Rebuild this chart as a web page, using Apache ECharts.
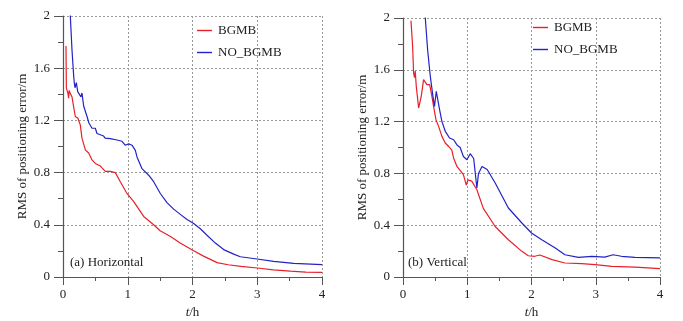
<!DOCTYPE html>
<html><head><meta charset="utf-8">
<script src="https://cdn.jsdelivr.net/npm/echarts@6/dist/echarts.min.js"></script>
<style>html,body{margin:0;padding:0;background:#fff}#c{width:683px;height:321px}</style>
</head><body><div id="c"></div>
<script>
const xTicks = [0, 1, 2, 3, 4];
const yTicks = ['0', '0.4', '0.8', '1.2', '1.6', '2'];
const seriesNames = ['BGMB', 'NO_BGMB'];
const panelLabels = ['(a) Horizontal', '(b) Vertical'];

// Horizontal panel
const hBGMB = [[0.046,1.77],[0.052,1.45],[0.062,1.43],[0.075,1.41],[0.087,1.37],[0.095,1.43],[0.11,1.41],[0.139,1.38],[0.164,1.306],[0.19,1.23],[0.21,1.22],[0.23,1.217],[0.24,1.23],[0.252,1.21],[0.267,1.166],[0.293,1.064],[0.345,0.974],[0.396,0.95],[0.448,0.898],[0.499,0.87],[0.577,0.85],[0.654,0.81],[0.731,0.81],[0.808,0.80],[0.885,0.73],[0.988,0.64],[1.09,0.58],[1.246,0.464],[1.40,0.40],[1.50,0.354],[1.66,0.31],[1.81,0.26],[1.99,0.209],[2.17,0.16],[2.38,0.11],[2.55,0.094],[2.75,0.082],[3.0,0.069],[3.25,0.055],[3.51,0.045],[3.75,0.038],[4.0,0.035]];
const hNO = [[0.10,2.3],[0.113,2.0],[0.139,1.74],[0.165,1.54],[0.175,1.485],[0.185,1.45],[0.206,1.49],[0.227,1.42],[0.252,1.41],[0.278,1.38],[0.293,1.41],[0.319,1.31],[0.371,1.23],[0.40,1.18],[0.448,1.14],[0.499,1.14],[0.525,1.10],[0.551,1.10],[0.628,1.08],[0.65,1.064],[0.731,1.06],[0.834,1.05],[0.911,1.04],[0.96,1.01],[1.014,1.02],[1.066,1.01],[1.117,0.97],[1.143,0.92],[1.22,0.83],[1.323,0.78],[1.40,0.73],[1.503,0.64],[1.606,0.57],[1.709,0.52],[1.812,0.48],[1.915,0.44],[2.018,0.41],[2.121,0.37],[2.224,0.32],[2.353,0.26],[2.481,0.21],[2.636,0.175],[2.739,0.155],[2.996,0.138],[3.254,0.12],[3.562,0.105],[4.0,0.095]];

// Vertical panel
const vBGMB = [[0.124,1.98],[0.15,1.78],[0.165,1.575],[0.18,1.54],[0.19,1.59],[0.207,1.47],[0.243,1.305],[0.284,1.395],[0.305,1.41],[0.32,1.524],[0.347,1.53],[0.373,1.485],[0.415,1.485],[0.45,1.395],[0.476,1.317],[0.513,1.215],[0.554,1.163],[0.606,1.086],[0.658,1.035],[0.71,1.008],[0.76,0.98],[0.787,0.919],[0.84,0.854],[0.94,0.79],[0.985,0.71],[1.01,0.75],[1.07,0.74],[1.15,0.674],[1.25,0.53],[1.435,0.39],[1.64,0.288],[1.85,0.198],[1.95,0.164],[2.05,0.16],[2.13,0.17],[2.32,0.134],[2.52,0.108],[2.78,0.103],[2.99,0.095],[3.25,0.082],[3.61,0.077],[4.0,0.064]];
const vNO = [[0.33,2.3],[0.347,2.0],[0.383,1.755],[0.425,1.55],[0.466,1.395],[0.49,1.317],[0.518,1.434],[0.539,1.42],[0.57,1.29],[0.606,1.20],[0.658,1.125],[0.725,1.073],[0.788,1.06],[0.84,1.02],[0.89,1.0],[0.94,0.93],[0.995,0.905],[1.046,0.952],[1.1,0.915],[1.15,0.687],[1.175,0.80],[1.23,0.854],[1.31,0.83],[1.435,0.726],[1.64,0.533],[1.85,0.417],[2.0,0.34],[2.16,0.288],[2.37,0.224],[2.52,0.172],[2.73,0.152],[2.94,0.16],[3.14,0.154],[3.27,0.172],[3.4,0.16],[3.61,0.152],[4.0,0.147]];

const RED = '#e8202a', BLUE = '#2222c8';
const FONT = 'Liberation Serif';
const txt = {fontFamily: FONT, fontSize: 13, color: '#222'};

function xAxis(gi) {
  return {
    gridIndex: gi, type: 'value', min: 0, max: 4, interval: 1,
    name: '{i|t}/h', nameLocation: 'middle', nameGap: 29,
    nameTextStyle: {fontFamily: FONT, fontSize: 13, color: '#222', rich: {i: {fontFamily: FONT, fontSize: 13, fontStyle: 'italic', color: '#222'}}},
    axisLine: {show: true, onZero: false, lineStyle: {color: '#555', width: 1.2}},
    axisTick: {show: true, length: 8, lineStyle: {color: '#555'}},
    minorTick: {show: true, splitNumber: 2, length: 4, lineStyle: {color: '#555'}},
    axisLabel: Object.assign({margin: 11, formatter: v => String(xTicks[Math.round(v)])}, txt),
    splitLine: {show: true, lineStyle: {color: '#999', type: [2, 2], width: 1}}
  };
}
function yAxis(gi) {
  return {
    gridIndex: gi, type: 'value', min: 0, max: 2, interval: 0.4,
    name: 'RMS of positioning error/m', nameLocation: 'middle', nameGap: 34,
    nameTextStyle: {fontFamily: FONT, fontSize: 13, color: '#222'},
    axisLine: {show: true, onZero: false, lineStyle: {color: '#555', width: 1.2}},
    axisTick: {show: true, length: 9, lineStyle: {color: '#555'}},
    minorTick: {show: true, splitNumber: 2, length: 5, lineStyle: {color: '#555'}},
    axisLabel: Object.assign({margin: 13, formatter: v => yTicks[Math.round(v / 0.4)]}, txt),
    splitLine: {show: true, lineStyle: {color: '#999', type: [2, 2], width: 1}}
  };
}
function line(name, data, color, gi) {
  return {name, type: 'line', data, xAxisIndex: gi, yAxisIndex: gi, symbol: 'none', clip: true,
    lineStyle: {color, width: 1.2}, itemStyle: {color}, animation: false};
}
function legend(left, top) {
  return {data: seriesNames, orient: 'vertical', left, top, padding: 0, itemWidth: 15, itemHeight: 10, itemGap: 9,
    icon: 'path://M0,0 L15,0 L15,1.4 L0,1.4 Z', textStyle: Object.assign({padding: [0, 0, 0, 1]}, txt), selectedMode: false};
}

const chart = echarts.init(document.getElementById('c'));
chart.setOption({
  animation: false,
  grid: [
    {left: 63, right: 361, top: 16, bottom: 44, containLabel: false, outerBoundsMode: 'none'},
    {left: 403, right: 23, top: 18, bottom: 44, containLabel: false, outerBoundsMode: 'none'}
  ],
  xAxis: [xAxis(0), xAxis(1)],
  yAxis: [yAxis(0), yAxis(1)],
  legend: [legend(197, 24), legend(533, 21)],
  title: [
    {text: panelLabels[0], left: 70, top: 256, padding: 0, textStyle: Object.assign({fontWeight: 'normal'}, txt)},
    {text: panelLabels[1], left: 408, top: 256, padding: 0, textStyle: Object.assign({fontWeight: 'normal'}, txt)}
  ],
  series: [
    line(seriesNames[0], hBGMB, RED, 0),
    line(seriesNames[1], hNO, BLUE, 0),
    line(seriesNames[0], vBGMB, RED, 1),
    line(seriesNames[1], vNO, BLUE, 1)
  ]
});
</script></body></html>
